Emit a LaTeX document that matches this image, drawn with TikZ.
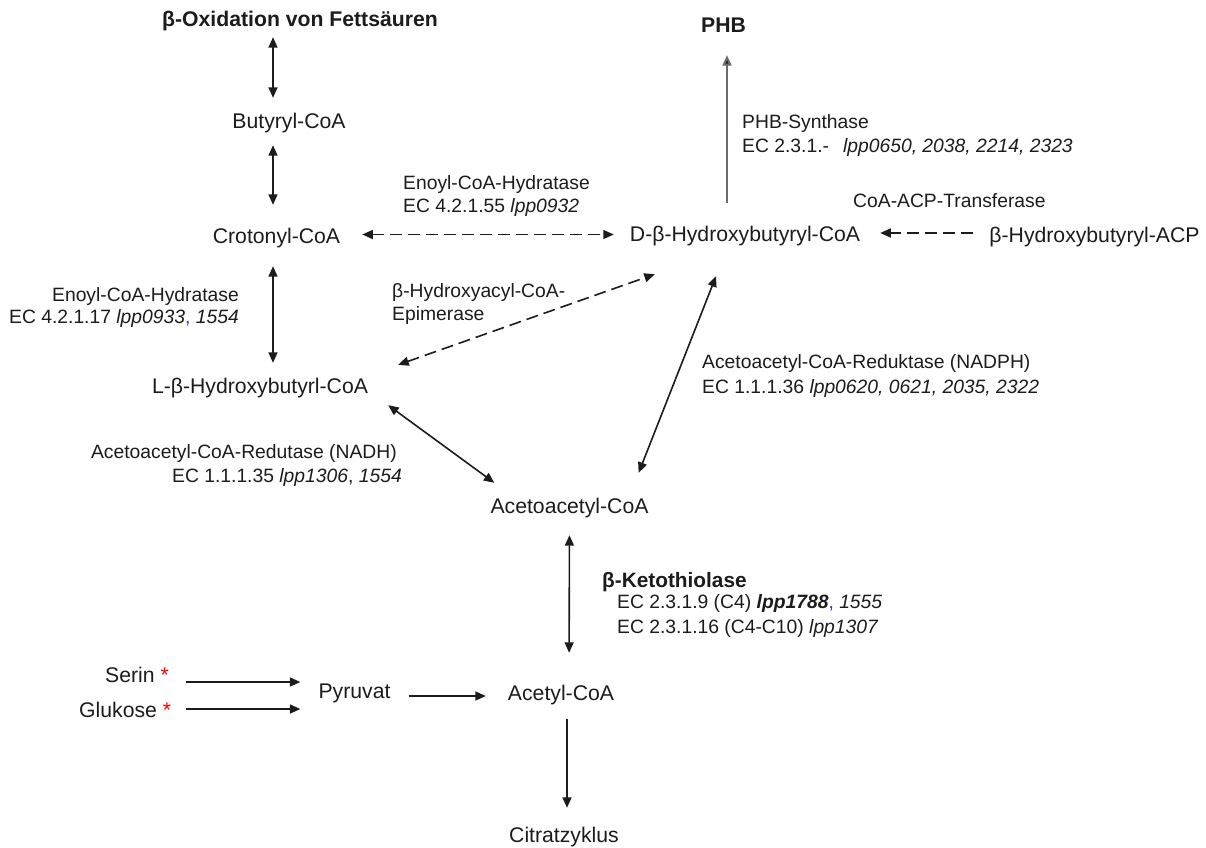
\documentclass[tikz,border=0pt]{standalone}
\usepackage{fontspec}
\setmainfont{Liberation Sans}
\usetikzlibrary{arrows.meta}
\definecolor{ink}{HTML}{1C1C1C}
\definecolor{commablue}{HTML}{3A3AC8}
\begin{document}
\begin{tikzpicture}[x=1pt,y=-1pt,
  cmp/.style={font=\fontsize{21.2}{25}\selectfont, text=ink, inner sep=0pt,
              text height=15pt, text depth=4.5pt, anchor=base},
  hdr/.style={cmp, font=\fontsize{21.2}{25}\selectfont\bfseries},
  lbl/.style={font=\fontsize{19.3}{24}\selectfont, text=ink, inner sep=0pt},
  >={Triangle[length=10.5pt,width=9pt]},
  link/.style={draw=ink, line width=1.6pt},
  dlink/.style={link, dash pattern=on 12pt off 6pt},
  glink/.style={draw=black!58, line width=2pt}]
\useasboundingbox[fill=white] (0,0) rectangle (1206,847);

% compounds
\node[hdr] (oxid) at (300,26) {β-Oxidation von Fettsäuren};
\node[hdr] (phb) at (723.5,32) {PHB};
\node[cmp] (butyryl) at (289,128) {Butyryl-CoA};
\node[cmp] (croton) at (276.5,243) {Crotonyl-CoA};
\node[cmp] (dhyd) at (745,241) {D-β-Hydroxybutyryl-CoA};
\node[cmp] (acp) at (1094.5,242) {β-Hydroxybutyryl-ACP};
\node[cmp] (lhyd) at (260,393) {L-β-Hydroxybutyrl-CoA};
\node[cmp] (acac) at (569.5,513) {Acetoacetyl-CoA};
\node[cmp] (acetyl) at (561,700) {Acetyl-CoA};
\node[cmp] (pyruvat) at (354.5,698) {Pyruvat};
\node[cmp, anchor=base west] (serin) at (105,682) {Serin \textcolor{red}{*}};
\node[cmp, anchor=base west] (glukose) at (79,717) {Glukose \textcolor{red}{*}};
\node[cmp] (citrat) at (564,842) {Citratzyklus};

% enzyme labels
\node[lbl, anchor=base west] (e1a) at (403,189) {Enoyl-CoA-Hydratase};
\node[lbl, anchor=base west] (e1b) at (403,212) {EC 4.2.1.55 \textit{lpp0932}};
\node[lbl, anchor=base west] (pa) at (742,128) {PHB-Synthase};
\node[lbl, anchor=base west] (pb) at (742,152) {EC 2.3.1.-\hskip 14pt\textit{lpp0650, 2038, 2214, 2323}};
\node[lbl, anchor=base west] (tr) at (853,207) {CoA-ACP-Transferase};
\node[lbl, anchor=base east] (e2a) at (239,301) {Enoyl-CoA-Hydratase};
\node[lbl, anchor=base east] (e2b) at (239,323) {EC 4.2.1.17 \textit{lpp0933}\textcolor{commablue}{,} \textit{1554}};
\node[lbl, anchor=base west] (epa) at (392,297) {β-Hydroxyacyl-CoA-};
\node[lbl, anchor=base west] (epb) at (392,320) {Epimerase};
\node[lbl, anchor=base west] (r1a) at (702,368) {Acetoacetyl-CoA-Reduktase (NADPH)};
\node[lbl, anchor=base west] (r1b) at (702,393) {EC 1.1.1.36 \textit{lpp0620, 0621, 2035, 2322}};
\node[lbl, anchor=base east] (r2a) at (397,458) {Acetoacetyl-CoA-Redutase (NADH)};
\node[lbl, anchor=base east] (r2b) at (402,482) {EC 1.1.1.35 \textit{lpp1306}, \textit{1554}};
\node[lbl, anchor=base west, font=\fontsize{20.8}{24}\selectfont\bfseries] (kt) at (602,587) {β-Ketothiolase};
\node[lbl, anchor=base west] (kta) at (617,608) {EC 2.3.1.9 (C4) \textbf{\textit{lpp1788}}\textcolor{commablue}{,} \textit{1555}};
\node[lbl, anchor=base west] (ktb) at (617,633) {EC 2.3.1.16 (C4-C10) \textit{lpp1307}};

% reactions
\draw[link,<->,shorten <=6.5pt,shorten >=15pt]
  ([xshift=-27pt]oxid.south) -- ([xshift=-16pt]butyryl.north);
\draw[link,<->,shorten <=12.5pt,shorten >=23pt]
  ([xshift=-16pt]butyryl.south) -- ([xshift=-3.5pt]croton.north);
\draw[link,<->,shorten <=18.5pt,shorten >=15pt]
  ([xshift=-3.5pt]croton.south) -- ([xshift=13pt]lhyd.north);
\draw[dlink,<->]
  ([xshift=22pt,yshift=3.25pt]croton.east) -- ([xshift=-16pt,yshift=1.25pt]dhyd.west);
\draw[dlink,->]
  ([xshift=-16pt,yshift=3.75pt]acp.west) -- ([xshift=20pt,yshift=2.75pt]dhyd.east);
\draw[glink,-{Triangle[length=10.5pt,width=9pt,fill=ink]},shorten <=23pt,shorten >=18.5pt]
  ([xshift=-18pt]dhyd.north) -- ([xshift=3.5pt]phb.south);
\draw[dlink,<->]
  ([xshift=30pt,yshift=13pt]lhyd.north east) -- ([xshift=25pt,yshift=-28.5pt]dhyd.south west);
\draw[link,<->]
  ([xshift=-29pt,yshift=-30.5pt]dhyd.south) -- ([xshift=-10pt,yshift=25pt]acac.north east);
\draw[link,<->]
  ([xshift=20pt,yshift=-7.5pt]lhyd.south east) -- ([xshift=4pt,yshift=15pt]acac.north west);
\draw[link,<->,shorten <=17.5pt,shorten >=32pt]
  (acac.south) -- ([xshift=8pt]acetyl.north);
\draw[link,->,shorten <=17pt,shorten >=18pt]
  ([yshift=-5.25pt]serin.east) -- ([yshift=10.75pt]pyruvat.west);
\draw[link,->,shorten <=15pt,shorten >=18pt]
  ([yshift=2.75pt]glukose.east) -- ([yshift=-16.25pt]pyruvat.west);
\draw[link,->,shorten <=18pt,shorten >=22pt]
  ([yshift=-3.25pt]pyruvat.east) -- ([yshift=-1.25pt]acetyl.west);
\draw[link,->,shorten <=14.5pt,shorten >=19pt]
  ([xshift=6pt]acetyl.south) -- ([xshift=3pt]citrat.north);
\end{tikzpicture}
\end{document}
